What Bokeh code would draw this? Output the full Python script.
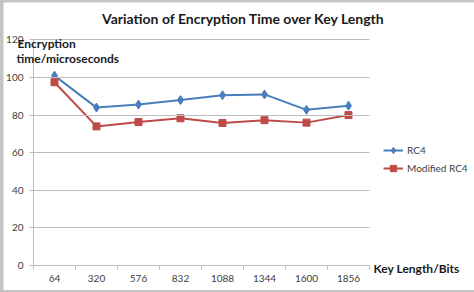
from bokeh.plotting import figure
from bokeh.models import (Range1d, LinearAxis, FixedTicker, Legend, LegendItem, Label)
from bokeh.layouts import column
from bokeh.embed import file_html
from bokeh.resources import INLINE

key_lengths = ["64", "320", "576", "832", "1088", "1344", "1600", "1856"]
rc4 = [101.0, 84.0, 85.6, 88.0, 90.6, 91.0, 82.8, 85.0]
modified_rc4 = [97.5, 74.0, 76.3, 78.3, 75.8, 77.3, 76.0, 80.0]
y_ticks = [0, 20, 40, 60, 80, 100, 120]

x_pos = list(range(len(key_lengths)))          # category slots
edges = [i - 0.5 for i in range(len(key_lengths) + 1)]

FONT = "Lato"
GRID = "#bdbdbd"
TXT = "#404040"
DARK = "#1a1a1a"
BLUE = "#4a7ebb"
RED = "#be4b48"

# frame covers the whole canvas; axes are placed at fixed data locations inside it
p = figure(width=471, height=288, x_range=Range1d(-1.214, 10.0), y_range=Range1d(-13.3, 139.9),
           output_backend="svg", toolbar_location=None, x_axis_location=None, y_axis_location=None,
           title_location=None, min_border=0)
p.outline_line_color = None
p.xgrid.visible = False
p.ygrid.visible = False

ya = LinearAxis(fixed_location=-0.5, bounds=(0, 120), ticker=FixedTicker(ticks=y_ticks),
                axis_line_color=GRID, major_tick_line_color=GRID,
                major_tick_in=336, major_tick_out=4, minor_tick_line_color=None,
                major_label_text_font=FONT, major_label_text_font_size="10px",
                major_label_text_color=TXT, major_label_standoff=6)
p.add_layout(ya, "left")

tick_axis = LinearAxis(fixed_location=0, bounds=(-0.5, 7.5), ticker=FixedTicker(ticks=edges),
                       major_label_text_font_size="0px", major_label_text_alpha=0,
                       axis_line_color=GRID, major_tick_line_color=GRID,
                       major_tick_in=0, major_tick_out=4, minor_tick_line_color=None)
p.add_layout(tick_axis, "below")

cat_axis = LinearAxis(fixed_location=0, ticker=FixedTicker(ticks=x_pos),
                      major_label_overrides={i: k for i, k in zip(x_pos, key_lengths)},
                      axis_line_color=None, major_tick_line_color=None, minor_tick_line_color=None,
                      major_label_text_font=FONT, major_label_text_font_size="10px",
                      major_label_text_color=TXT, major_label_standoff=4)
p.add_layout(cat_axis, "below")

l1 = p.line(x_pos, rc4, line_color=BLUE, line_width=2)
m1 = p.scatter(x_pos, rc4, marker="diamond", size=9, fill_color=BLUE, line_color=BLUE)
l2 = p.line(x_pos, modified_rc4, line_color=RED, line_width=2)
m2 = p.scatter(x_pos, modified_rc4, marker="square", size=7, fill_color=RED, line_color=RED)

legend = Legend(items=[LegendItem(label="RC4", renderers=[l1, m1]),
                       LegendItem(label="Modified RC4", renderers=[l2, m2])],
                location=(380, 114), padding=0, spacing=2, margin=0,
                glyph_width=20, glyph_height=16, label_height=16, label_standoff=4,
                label_text_font=FONT, label_text_font_size="10px", label_text_color=TXT,
                border_line_color=None, background_fill_alpha=0)
p.add_layout(legend, "center")

def lab(text, x, y, size, align="left"):
    p.add_layout(Label(x=x, y=y, x_units="screen", y_units="screen", text=text,
                       text_font=FONT, text_font_size=size, text_color=DARK,
                       text_font_style="bold", text_align=align, text_baseline="middle"))

lab("Variation of Encryption Time over Key Length", 240, 272, "14px", align="center")
lab("Encryption", 14, 247, "12px")
lab("time/microseconds", 13, 232, "12px")
lab("Key Length/Bits", 370, 22, "12px")

layout = column(p, styles={"padding": "2px 0px 2px 3px", "background-color": "#c4c4c4"})
open("out.html", "w").write(file_html(layout, INLINE))
